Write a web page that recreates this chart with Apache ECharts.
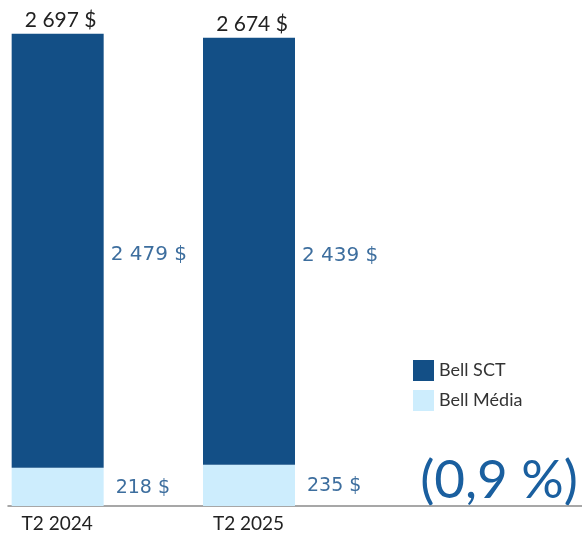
<!DOCTYPE html>
<html>
<head>
<meta charset="utf-8">
<script src="https://cdn.jsdelivr.net/npm/echarts@6/dist/echarts.min.js"></script>
<style>
  html, body { margin: 0; padding: 0; background: #fff; }
  #chart { width: 582px; height: 535px; }
</style>
</head>
<body>
<div id="chart"></div>
<script>
var quarters = ['T2 2024', 'T2 2025', '']
var bellSct = [2479, 2439]
var bellMedia = [218, 235]
var changeText = '(0,9 %)'

var totals = bellSct.map(function(v, i) { return v + bellMedia[i] })

function money(v) {
    return String(v).replace(/\B(?=(\d{3})+(?!\d))/g, ' ') + ' $'
}

var chart = echarts.init(document.getElementById('chart'))
var font = 'Lato, "Open Sans", sans-serif'
var valueFont = '"DejaVu Sans", sans-serif'

chart.setOption({
    animation: false,
    textStyle: { fontFamily: font },
    grid: { left: 8, right: 0, top: 0, bottom: 29 },
    legend: {
        data: ['Bell SCT', 'Bell Média'],
        orient: 'vertical',
        left: 408,
        top: 355,
        itemWidth: 21,
        itemHeight: 21,
        itemGap: 9,
        icon: 'rect',
        textStyle: { fontSize: 18, color: '#333', fontFamily: font }
    },
    xAxis: {
        type: 'category',
        data: quarters,
        axisLine: { lineStyle: { color: '#8a8a8a', width: 1.5 } },
        axisTick: { show: false },
        axisLabel: {
            color: '#222',
            fontSize: 19,
            margin: 8,
            padding: [0, 93, 0, 0]
        }
    },
    yAxis: {
        type: 'value',
        min: 0,
        max: 2890,
        show: false,
        splitLine: { show: false }
    },
    series: [{
        name: 'Bell Média',
        type: 'bar',
        stack: 'total',
        barWidth: 92,
        barGap: 0,
        data: bellMedia,
        itemStyle: { color: '#cdedfd' },
        label: {
            show: true,
            position: 'right',
            distance: 12,
            offset: [0, 1],
            color: '#3d6e9e',
            fontSize: 19,
            fontFamily: valueFont,
            formatter: function(p) { return money(p.value) }
        }
    }, {
        name: 'Bell SCT',
        type: 'bar',
        stack: 'total',
        barWidth: 92,
        data: bellSct,
        itemStyle: { color: '#134f86' },
        label: {
            show: true,
            position: 'right',
            distance: 7,
            offset: [0, 4],
            color: '#3d6e9e',
            fontSize: 20,
            fontFamily: valueFont,
            formatter: function(p) { return money(p.value) }
        }
    }, {
        name: 'Total',
        type: 'bar',
        stack: 'total',
        barWidth: 92,
        data: totals.map(function() { return 0 }),
        itemStyle: { color: 'transparent' },
        label: {
            show: true,
            position: 'top',
            distance: 3,
            offset: [3, 0],
            color: '#222',
            fontSize: 21,
            formatter: function(p) { return money(totals[p.dataIndex]) }
        }
    }, {
        name: 'spacer',
        type: 'bar',
        barWidth: 92,
        data: []
    }],
    graphic: [{
        type: 'text',
        right: 4,
        bottom: 28,
        style: {
            text: changeText,
            fontSize: 53,
            fontFamily: font,
            fill: '#1a5f9f'
        }
    }]
})
</script>
</body>
</html>
